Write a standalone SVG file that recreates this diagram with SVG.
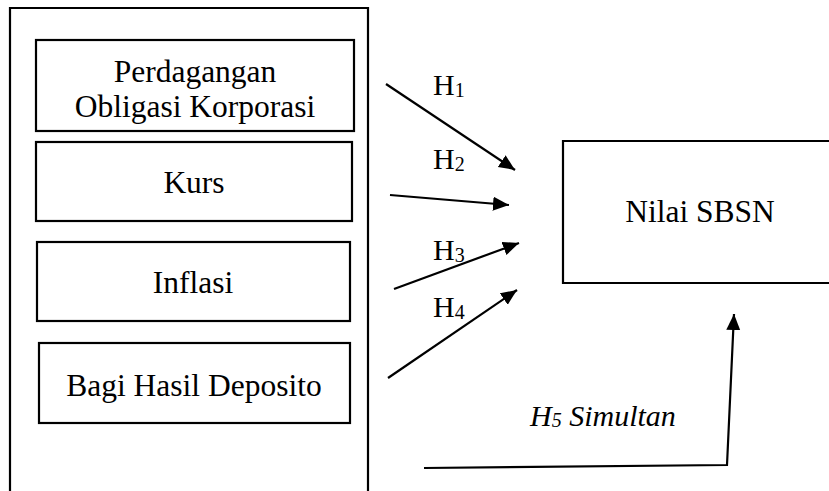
<svg xmlns="http://www.w3.org/2000/svg" width="829" height="491" viewBox="0 0 829 491">
<style>
.box{fill:#fff;stroke:#000;stroke-width:2.2}
.t{font-family:'Times New Roman','Liberation Serif',serif;font-size:31.5px;fill:#000;text-anchor:middle}
.h{font-family:'Times New Roman','Liberation Serif',serif;font-size:30px;fill:#000}
.sub{font-size:20px}
.ln{fill:none;stroke:#000;stroke-width:2.2}
</style>
<defs>
<marker id="ah" markerUnits="userSpaceOnUse" markerWidth="18" markerHeight="16" refX="16" refY="7" orient="auto">
<path d="M0,0 L16,7 L0,14 z" fill="#000"/>
</marker>
</defs>
<rect width="829" height="491" fill="#fff"/>
<g id="outer">
<path class="ln" d="M10,491 L10,8 L368,8 L368,491"/>
</g>
<g id="node-perdagangan">
<rect class="box" x="36" y="40" width="318" height="91"/>
<text class="t" x="195" y="82">Perdagangan</text>
<text class="t" x="195" y="117">Obligasi Korporasi</text>
</g>
<g id="node-kurs">
<rect class="box" x="36" y="142" width="316" height="79"/>
<text class="t" x="194" y="193">Kurs</text>
</g>
<g id="node-inflasi">
<rect class="box" x="37" y="242" width="313" height="79"/>
<text class="t" x="193" y="293">Inflasi</text>
</g>
<g id="node-bagi">
<rect class="box" x="39" y="343" width="311" height="80"/>
<text class="t" x="194" y="396">Bagi Hasil Deposito</text>
</g>
<g id="node-nilai">
<path class="ln" d="M840,141 L563,141 L563,283 L840,283"/>
<text class="t" x="700" y="222">Nilai SBSN</text>
</g>
<g id="connectors">
<line class="ln" x1="386" y1="84" x2="515" y2="170" marker-end="url(#ah)"/>
<line class="ln" x1="390" y1="195" x2="509" y2="205" marker-end="url(#ah)"/>
<line class="ln" x1="394" y1="289" x2="519" y2="243" marker-end="url(#ah)"/>
<line class="ln" x1="388" y1="378" x2="517" y2="290" marker-end="url(#ah)"/>
<polyline class="ln" points="424,468 727,465 734,314" marker-end="url(#ah)"/>
</g>
<g id="labels">
<text class="h" x="433" y="95">H<tspan class="sub" dy="2">1</tspan></text>
<text class="h" x="433" y="169">H<tspan class="sub" dy="2">2</tspan></text>
<text class="h" x="433" y="260">H<tspan class="sub" dy="2">3</tspan></text>
<text class="h" x="433" y="317">H<tspan class="sub" dy="2">4</tspan></text>
<text class="h" x="530" y="426" font-style="italic">H<tspan class="sub" dy="1">5</tspan><tspan dy="-1"> Simultan</tspan></text>
</g>
</svg>
